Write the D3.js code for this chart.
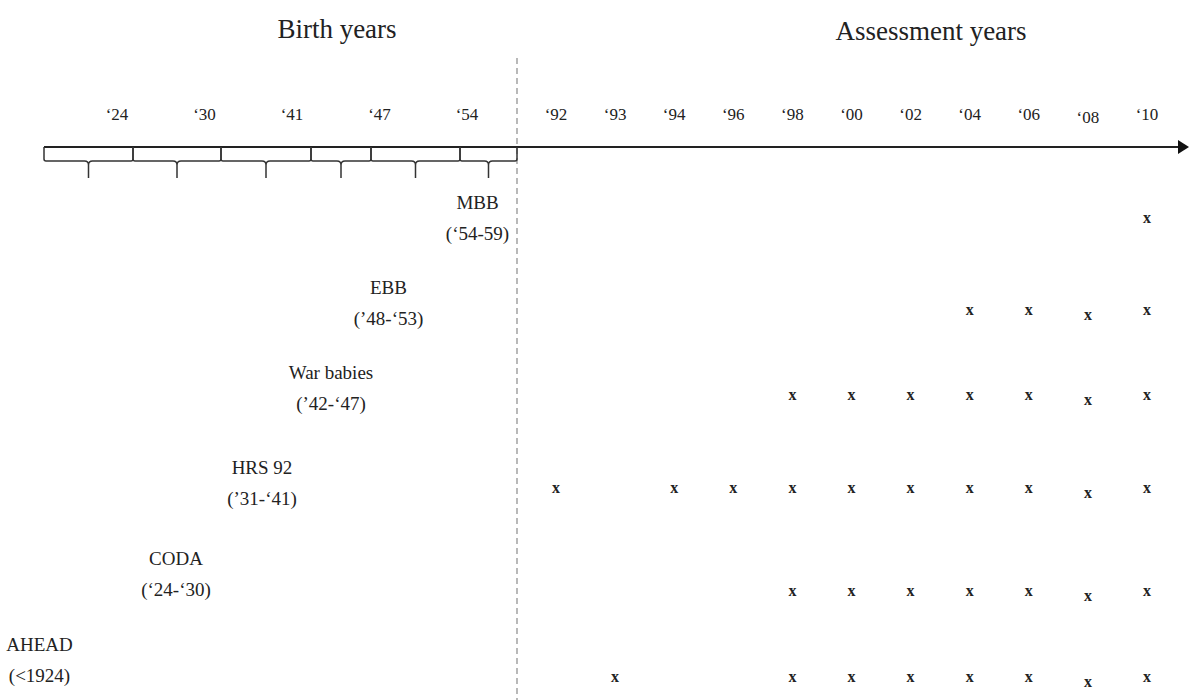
<!DOCTYPE html>
<html>
<head>
<meta charset="utf-8">
<script src="https://cdn.jsdelivr.net/npm/d3@7"></script>
<style>
  body { margin: 0; background: #fff; }
  text { font-family: "Liberation Serif", "DejaVu Serif", serif; fill: #222; }
</style>
</head>
<body>
<div id="chart"></div>
<script>
var width = 1189, height = 700;

// assessment waves (x axis on the right)
var assessYears = [1992, 1993, 1994, 1996, 1998, 2000, 2002, 2004, 2006, 2008, 2010];
var assessLabels = ["‘92", "‘93", "‘94", "‘96", "‘98", "‘00", "‘02", "‘04", "‘06", "‘08", "‘10"];

// birth years (brackets on the left)
var birthTicks = ["‘24", "‘30", "‘41", "‘47", "‘54"];
var birthEdges = [1918, 1924, 1931, 1942, 1948, 1954, 1960];

// cohorts, top to bottom
var cohorts = ["MBB", "EBB", "War babies", "HRS 92", "CODA", "AHEAD"];
var cohortBorn = ["(‘54-59)", "(’48-‘53)", "(’42-‘47)", "(’31-‘41)", "(‘24-‘30)", "(<1924)"];
var cohortStart = [1954, 1948, 1942, 1931, 1924, 1918];
var cohortEnd = [1960, 1954, 1948, 1942, 1931, 1924];

// waves in which each cohort was assessed
var waves = [
    [2010],
    [2004, 2006, 2008, 2010],
    [1998, 2000, 2002, 2004, 2006, 2008, 2010],
    [1992, 1994, 1996, 1998, 2000, 2002, 2004, 2006, 2008, 2010],
    [1998, 2000, 2002, 2004, 2006, 2008, 2010],
    [1993, 1998, 2000, 2002, 2004, 2006, 2008, 2010]
];

// layout only
var axisY = 147, braceBot = 161, braceTip = 178;
var labelDx = [-11, -27, -10, -4, -1, -49];
var labelDy = [10, 3, -4, 0, -1, -7];
var markDy = [0, 0, -7, -5, 6, 0];
var dropped = 2008; // the '08 column sits a little lower in the original

var svg = d3.select('#chart')
    .append('svg')
    .attr('width', width)
    .attr('height', height);

var birthX = d3.scaleLinear()
    .domain(birthEdges)
    .range([44, 133, 221, 311, 371, 460, 517]);

var birthTickX = d3.scalePoint()
    .domain(birthTicks)
    .range([117, 467]);

var assessX = d3.scalePoint()
    .domain(assessYears)
    .range([556, 1147]);

var rowY = d3.scalePoint()
    .domain(cohorts)
    .range([218, 677]);

var divider = birthX(birthEdges[birthEdges.length - 1]);

// titles
svg.append('text')
    .attr('x', 337).attr('y', 38)
    .attr('text-anchor', 'middle')
    .style('font-size', '27px')
    .text('Birth years');

svg.append('text')
    .attr('x', 931).attr('y', 40)
    .attr('text-anchor', 'middle')
    .style('font-size', '27px')
    .text('Assessment years');

// dashed divider
svg.append('line')
    .attr('x1', divider).attr('x2', divider)
    .attr('y1', 58).attr('y2', height)
    .attr('stroke', '#8a8a8a')
    .attr('stroke-width', 1.2)
    .attr('stroke-dasharray', '6,4');

// time line + arrow
svg.append('line')
    .attr('x1', birthX(birthEdges[0])).attr('x2', 1181)
    .attr('y1', axisY).attr('y2', axisY)
    .attr('stroke', '#222')
    .attr('stroke-width', 2);

svg.append('path')
    .attr('d', 'M1178,' + (axisY - 7) + 'L1189,' + axisY + 'L1178,' + (axisY + 7) + 'Z')
    .attr('fill', '#111');

// birth brackets
svg.selectAll('.brace')
    .data(d3.pairs(birthEdges))
    .enter()
    .append('path')
    .attr('class', 'brace')
    .attr('d', function(d){
        var x0 = birthX(d[0]), x1 = birthX(d[1]), cx = (x0 + x1) / 2;
        return 'M' + x0 + ',' + axisY + 'V' + (braceBot - 2) +
            'Q' + x0 + ',' + braceBot + ' ' + (x0 + 2) + ',' + braceBot +
            'H' + (cx - 4) +
            'Q' + cx + ',' + braceBot + ' ' + cx + ',' + (braceBot + 4) +
            'V' + braceTip +
            'M' + cx + ',' + (braceBot + 4) +
            'Q' + cx + ',' + braceBot + ' ' + (cx + 4) + ',' + braceBot +
            'H' + (x1 - 2) +
            'Q' + x1 + ',' + braceBot + ' ' + x1 + ',' + (braceBot - 2) +
            'V' + axisY;
    })
    .attr('fill', 'none')
    .attr('stroke', '#333')
    .attr('stroke-width', 1.5);

// birth tick labels
svg.selectAll('.btick')
    .data(birthTicks)
    .enter()
    .append('text')
    .attr('class', 'btick')
    .attr('x', function(d){ return birthTickX(d); })
    .attr('y', 120)
    .attr('text-anchor', 'middle')
    .style('font-size', '17px')
    .text(function(d){ return d; });

// assessment tick labels
svg.selectAll('.atick')
    .data(assessYears)
    .enter()
    .append('text')
    .attr('class', 'atick')
    .attr('x', function(d){ return assessX(d); })
    .attr('y', function(d){ return d === dropped ? 123 : 120; })
    .attr('text-anchor', 'middle')
    .style('font-size', '17px')
    .text(function(d, i){ return assessLabels[i]; });

// cohort labels
var labels = svg.selectAll('.cohort')
    .data(cohorts)
    .enter()
    .append('text')
    .attr('class', 'cohort')
    .attr('text-anchor', 'middle')
    .style('font-size', '19px');

labels.append('tspan')
    .attr('x', function(d, i){ return birthX((cohortStart[i] + cohortEnd[i]) / 2) + labelDx[i]; })
    .attr('y', function(d, i){ return rowY(d) - 19 + labelDy[i]; })
    .text(function(d){ return d; });

labels.append('tspan')
    .attr('x', function(d, i){ return birthX((cohortStart[i] + cohortEnd[i]) / 2) + labelDx[i]; })
    .attr('y', function(d, i){ return rowY(d) + 12 + labelDy[i]; })
    .text(function(d, i){ return cohortBorn[i]; });

// assessment marks
var points = [];
cohorts.forEach(function(c, i){
    waves[i].forEach(function(w){ points.push({cohort: c, row: i, year: w}); });
});

svg.selectAll('.mark')
    .data(points)
    .enter()
    .append('text')
    .attr('class', 'mark')
    .attr('x', function(d){ return assessX(d.year); })
    .attr('y', function(d){ return rowY(d.cohort) + 5 + markDy[d.row] + (d.year === dropped ? 5 : 0); })
    .attr('text-anchor', 'middle')
    .style('font-size', '16px')
    .style('font-weight', 'bold')
    .text('x');
</script>
</body>
</html>
